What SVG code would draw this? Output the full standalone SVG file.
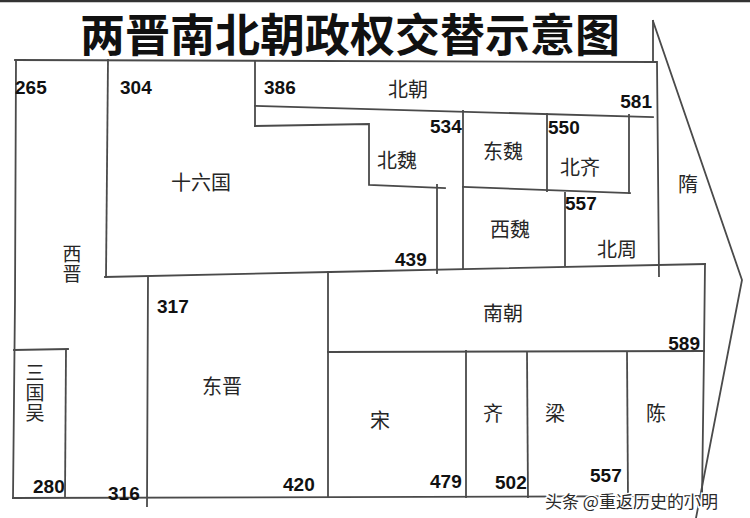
<svg xmlns="http://www.w3.org/2000/svg" width="750" height="518" viewBox="0 0 750 518">
<style>
.ln{fill:none;stroke:#4a4a4a;stroke-width:1.8;stroke-linecap:square}
.cn{font-family:"Noto Sans CJK SC","Noto Sans CJK TC",sans-serif;font-size:20px;fill:#262626;text-anchor:middle}
.cv{font-family:"Noto Sans CJK SC","Noto Sans CJK TC",sans-serif;font-size:19px;fill:#262626;text-anchor:middle;writing-mode:vertical-rl;letter-spacing:1px}
.num{font-family:"Liberation Sans",Arial,sans-serif;font-size:19px;font-weight:bold;fill:#111}
.title{font-family:"Noto Sans CJK SC",sans-serif;font-size:45px;font-weight:bold;fill:#111;text-anchor:middle}
.wm{font-family:"Noto Sans CJK SC",sans-serif;font-size:17px;fill:#2a2a2a;stroke:#fff;stroke-width:3;paint-order:stroke}
</style>
<rect width="750" height="518" fill="#fff"/>
<line x1="0" y1="1" x2="750" y2="1" stroke="#333" stroke-width="2.5"/>
<text class="title" x="350" y="52">两晋南北朝政权交替示意图</text>

<g id="connectors">
  <line class="ln" x1="15" y1="60" x2="653" y2="62"/>
  <polyline class="ln" points="16,60 15,300 13,498"/>
  <line class="ln" x1="108" y1="60" x2="106" y2="277"/>
  <polyline class="ln" points="105,277 330,272 705,264"/>
  <line class="ln" x1="148" y1="277" x2="147" y2="506"/>
  <line class="ln" x1="328" y1="272" x2="328" y2="497"/>
  <line class="ln" x1="13" y1="498" x2="702" y2="496"/>
  <polyline class="ln" points="705,264 704,352 702,497"/>
  <line class="ln" x1="328" y1="352" x2="704" y2="351"/>
  <line class="ln" x1="466" y1="351" x2="466" y2="497"/>
  <line class="ln" x1="527" y1="352" x2="528" y2="497"/>
  <line class="ln" x1="627" y1="352" x2="628" y2="497"/>
  <line class="ln" x1="14" y1="350" x2="68" y2="349"/>
  <line class="ln" x1="66" y1="350" x2="65" y2="497"/>
  <line class="ln" x1="255" y1="61" x2="255" y2="126"/>
  <line class="ln" x1="255" y1="106" x2="653" y2="117"/>
  <polyline class="ln" points="255,126 369,124 369,185 445,188"/>
  <line class="ln" x1="437" y1="185" x2="437" y2="273"/>
  <line class="ln" x1="463" y1="111" x2="463" y2="269"/>
  <line class="ln" x1="463" y1="187" x2="630" y2="193"/>
  <line class="ln" x1="547" y1="114" x2="547" y2="191"/>
  <line class="ln" x1="629" y1="115" x2="629" y2="193"/>
  <line class="ln" x1="565" y1="193" x2="565" y2="265"/>
  <polyline class="ln" points="653,21 653,62 657,62 659,276"/>
  <polyline class="ln" points="653,21 742,280 696,518"/>
</g>

<g id="xijin">
  <text class="num" x="15" y="94">265</text>
  <text class="cv" x="72" y="264">西晋</text>
  <text class="num" x="108" y="500">316</text>
</g>
<g id="sanguowu">
  <text class="cv" x="35" y="393">三国吴</text>
  <text class="num" x="33" y="493">280</text>
</g>
<g id="shiliuguo">
  <text class="num" x="120" y="94">304</text>
  <text class="cn" x="201" y="190">十六国</text>
</g>
<g id="beichao">
  <text class="num" x="264" y="94">386</text>
  <text class="cn" x="408" y="97">北朝</text>
  <text class="num" x="652" y="108" text-anchor="end">581</text>
</g>
<g id="beiwei">
  <text class="cn" x="397" y="168">北魏</text>
  <text class="num" x="395" y="266">439</text>
  <text class="num" x="430" y="133">534</text>
</g>
<g id="dongwei">
  <text class="cn" x="503" y="159">东魏</text>
</g>
<g id="beiqi">
  <text class="num" x="548" y="134">550</text>
  <text class="cn" x="580" y="175">北齐</text>
</g>
<g id="xiwei">
  <text class="cn" x="510" y="237">西魏</text>
</g>
<g id="beizhou">
  <text class="num" x="565" y="210">557</text>
  <text class="cn" x="617" y="257">北周</text>
</g>
<g id="sui">
  <text class="cn" x="688" y="192">隋</text>
</g>
<g id="dongjin">
  <text class="num" x="157" y="313">317</text>
  <text class="cn" x="222" y="394">东晋</text>
  <text class="num" x="283" y="491">420</text>
</g>
<g id="nanchao">
  <text class="cn" x="503" y="321">南朝</text>
  <text class="num" x="700" y="350" text-anchor="end">589</text>
</g>
<g id="song">
  <text class="cn" x="380" y="428">宋</text>
  <text class="num" x="430" y="488">479</text>
</g>
<g id="qi">
  <text class="cn" x="493" y="421">齐</text>
  <text class="num" x="495" y="489">502</text>
</g>
<g id="liang">
  <text class="cn" x="555" y="421">梁</text>
  <text class="num" x="590" y="482">557</text>
</g>
<g id="chen">
  <text class="cn" x="656" y="421">陈</text>
</g>
<text class="wm" x="545" y="508">头条 @重返历史的小明</text>
</svg>
